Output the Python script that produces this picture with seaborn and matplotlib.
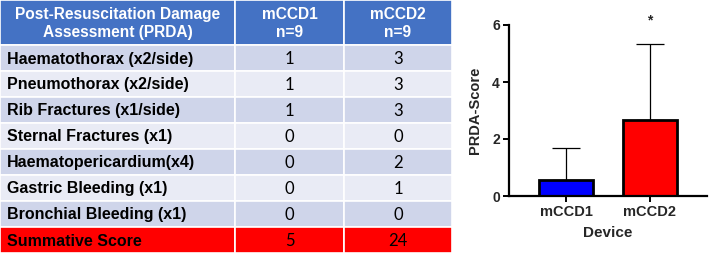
import matplotlib
matplotlib.use("Agg")
import matplotlib.pyplot as plt
from matplotlib.patches import Rectangle
import seaborn as sns
import pandas as pd

# ---- data ----
header_cols = ["Post-Resuscitation Damage\nAssessment (PRDA)", "mCCD1\nn=9", "mCCD2\nn=9"]
row_labels = ["Haematothorax (x2/side)", "Pneumothorax (x2/side)", "Rib Fractures (x1/side)",
              "Sternal Fractures (x1)", "Haematopericardium(x4)", "Gastric Bleeding (x1)",
              "Bronchial Bleeding (x1)", "Summative Score"]
mccd1_vals = ["1", "1", "1", "0", "0", "0", "0", "5"]
mccd2_vals = ["3", "3", "3", "0", "2", "1", "0", "24"]

devices = ["mCCD1", "mCCD2"]
prda_mean = [5 / 9, 24 / 9]
prda_sd = [1.13, 2.68]
sig_marks = ["", "*"]

sns.set_theme(style="white")
plt.rcParams['font.family'] = ['Liberation Sans', 'DejaVu Sans']

W, H = 709, 256
fig = plt.figure(figsize=(W / 100, H / 100), dpi=100)

# ---- table ----
tab_w, tab_h = 452, 253
tax = fig.add_axes([0, 1 - tab_h / H, tab_w / W, tab_h / H])
col_edges = [0, 235, 344, 452]
hdr_h, row_h = 45, 26
tax.set_xlim(0, tab_w)
tax.set_ylim(tab_h, 0)
tax.axis("off")

header_color = "#4472C4"
dark_row = "#CFD5EA"
light_row = "#E9EBF5"
red = "#FF0000"

for j in range(3):
    x0, x1 = col_edges[j], col_edges[j + 1]
    tax.add_patch(Rectangle((x0, 0), x1 - x0, hdr_h, facecolor=header_color,
                            edgecolor="white", linewidth=1.2))
    tax.text((x0 + x1) / 2, hdr_h / 2 + 1, header_cols[j], ha="center", va="center",
             color="white", fontsize=11.2, fontweight="bold", linespacing=1.25)

for i, lab in enumerate(row_labels):
    y0 = hdr_h + i * row_h
    if i == len(row_labels) - 1:
        fc = red
    else:
        fc = dark_row if i % 2 == 0 else light_row
    for j in range(3):
        x0, x1 = col_edges[j], col_edges[j + 1]
        tax.add_patch(Rectangle((x0, y0), x1 - x0, row_h, facecolor=fc,
                                edgecolor="white", linewidth=1.2))
    tax.text(7, y0 + row_h / 2 + 1, lab, ha="left", va="center", color="black",
             fontsize=11.5, fontweight="bold")
    tax.text((col_edges[1] + col_edges[2]) / 2, y0 + row_h / 2 + 1, mccd1_vals[i],
             ha="center", va="center", color="black", fontsize=12,
             family=["Lato", "DejaVu Sans"])
    tax.text((col_edges[2] + col_edges[3]) / 2, y0 + row_h / 2 + 1, mccd2_vals[i],
             ha="center", va="center", color="black", fontsize=12,
             family=["Lato", "DejaVu Sans"])

# ---- bar chart ----
ax_l, ax_r = 509, 707
ax_b, ax_t = 196, 25
ax = fig.add_axes([ax_l / W, 1 - ax_b / H, (ax_r - ax_l) / W, (ax_b - ax_t) / H])
df = pd.DataFrame({"Device": devices, "PRDA": prda_mean})
ax.errorbar(range(len(devices)), prda_mean, yerr=[[0, 0], prda_sd], fmt="none",
            ecolor="black", elinewidth=0.9, capsize=10, capthick=0.9, zorder=1)
sns.barplot(data=df, x="Device", y="PRDA", hue="Device", palette=["#0000FF", "#FF0000"],
            saturation=1, width=0.65, edgecolor="black", linewidth=2.0, legend=False,
            ax=ax, zorder=2)
for i, m in enumerate(sig_marks):
    if m:
        ax.text(i, prda_mean[i] + prda_sd[i] + 0.8, m, ha="center", va="center",
                fontsize=10, fontweight="bold", clip_on=False)

ax.set_xlim(-0.68, 1.68)
ax.set_ylim(0, 6)
ax.set_yticks([0, 2, 4, 6])
sns.despine(ax=ax)
for s in ["left", "bottom"]:
    ax.spines[s].set_linewidth(1.6)
    ax.spines[s].set_color("black")
ax.tick_params(axis="both", direction="out", length=4.5, width=1.4, color="black",
               pad=2, bottom=True, left=True)
ax.tick_params(axis="y", labelsize=10)
ax.tick_params(axis="x", labelsize=10.5)
for lbl in ax.get_xticklabels() + ax.get_yticklabels():
    lbl.set_fontweight("bold")
ax.set_xlabel("Device", fontsize=11, fontweight="bold", labelpad=5)
ax.set_ylabel("PRDA-Score", fontsize=10.5, fontweight="bold", labelpad=7)

fig.savefig("out.png", dpi=100)
